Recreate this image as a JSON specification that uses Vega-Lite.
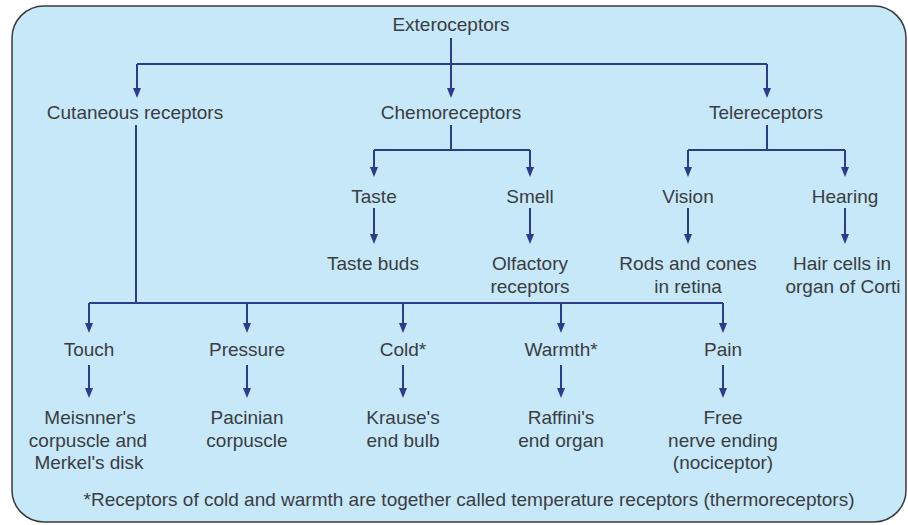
{
  "$schema": "https://vega.github.io/schema/vega-lite/v6.json",
  "width": 908,
  "height": 525,
  "padding": 0,
  "autosize": {"type": "none"},
  "background": "white",
  "config": {"view": {"stroke": null}},
  "datasets": {
    "box": [{"x": 12, "x2": 906, "y": 6, "y2": 522}],
    "lines": [
      {"x": 451, "x2": 451, "y": 38, "y2": 94},
      {"x": 137, "x2": 767, "y": 64, "y2": 64},
      {"x": 137, "x2": 137, "y": 64, "y2": 94},
      {"x": 767, "x2": 767, "y": 64, "y2": 94},
      {"x": 136, "x2": 136, "y": 125, "y2": 303},
      {"x": 451, "x2": 451, "y": 125, "y2": 150},
      {"x": 374, "x2": 530, "y": 150, "y2": 150},
      {"x": 374, "x2": 374, "y": 150, "y2": 173},
      {"x": 530, "x2": 530, "y": 150, "y2": 173},
      {"x": 767, "x2": 767, "y": 125, "y2": 150},
      {"x": 688, "x2": 845, "y": 150, "y2": 150},
      {"x": 688, "x2": 688, "y": 150, "y2": 173},
      {"x": 845, "x2": 845, "y": 150, "y2": 173},
      {"x": 374, "x2": 374, "y": 208, "y2": 240},
      {"x": 530, "x2": 530, "y": 208, "y2": 240},
      {"x": 688, "x2": 688, "y": 208, "y2": 240},
      {"x": 845, "x2": 845, "y": 208, "y2": 240},
      {"x": 89, "x2": 723, "y": 303, "y2": 303},
      {"x": 89, "x2": 89, "y": 303, "y2": 329},
      {"x": 247, "x2": 247, "y": 303, "y2": 329},
      {"x": 403, "x2": 403, "y": 303, "y2": 329},
      {"x": 561, "x2": 561, "y": 303, "y2": 329},
      {"x": 723, "x2": 723, "y": 303, "y2": 329},
      {"x": 89, "x2": 89, "y": 365, "y2": 394},
      {"x": 247, "x2": 247, "y": 365, "y2": 394},
      {"x": 403, "x2": 403, "y": 365, "y2": 394},
      {"x": 561, "x2": 561, "y": 365, "y2": 394},
      {"x": 723, "x2": 723, "y": 365, "y2": 394}
    ],
    "heads": [
      {"x": 137, "y": 93}, {"x": 451, "y": 93}, {"x": 767, "y": 93},
      {"x": 374, "y": 172}, {"x": 530, "y": 172}, {"x": 688, "y": 172}, {"x": 845, "y": 172},
      {"x": 374, "y": 239}, {"x": 530, "y": 239}, {"x": 688, "y": 239}, {"x": 845, "y": 239},
      {"x": 89, "y": 328}, {"x": 247, "y": 328}, {"x": 403, "y": 328}, {"x": 561, "y": 328}, {"x": 723, "y": 328},
      {"x": 89, "y": 393}, {"x": 247, "y": 393}, {"x": 403, "y": 393}, {"x": 561, "y": 393}, {"x": 723, "y": 393}
    ],
    "labels": [
      {"x": 451, "y": 25, "label": "Exteroceptors"},
      {"x": 135, "y": 113, "label": "Cutaneous receptors"},
      {"x": 451, "y": 113, "label": "Chemoreceptors"},
      {"x": 766, "y": 113, "label": "Telereceptors"},
      {"x": 374, "y": 197, "label": "Taste"},
      {"x": 530, "y": 197, "label": "Smell"},
      {"x": 688, "y": 197, "label": "Vision"},
      {"x": 845, "y": 197, "label": "Hearing"},
      {"x": 373, "y": 264, "label": "Taste buds"},
      {"x": 530, "y": 264, "label": "Olfactory"},
      {"x": 530, "y": 287, "label": "receptors"},
      {"x": 688, "y": 264, "label": "Rods and cones"},
      {"x": 688, "y": 287, "label": "in retina"},
      {"x": 842, "y": 264, "label": "Hair cells in"},
      {"x": 843, "y": 287, "label": "organ of Corti"},
      {"x": 89, "y": 350, "label": "Touch"},
      {"x": 247, "y": 350, "label": "Pressure"},
      {"x": 403, "y": 350, "label": "Cold*"},
      {"x": 561, "y": 350, "label": "Warmth*"},
      {"x": 723, "y": 350, "label": "Pain"},
      {"x": 90, "y": 418, "label": "Meisnner's"},
      {"x": 88, "y": 441, "label": "corpuscle and"},
      {"x": 89, "y": 463, "label": "Merkel's disk"},
      {"x": 247, "y": 418, "label": "Pacinian"},
      {"x": 247, "y": 441, "label": "corpuscle"},
      {"x": 403, "y": 418, "label": "Krause's"},
      {"x": 403, "y": 441, "label": "end bulb"},
      {"x": 561, "y": 418, "label": "Raffini's"},
      {"x": 561, "y": 441, "label": "end organ"},
      {"x": 723, "y": 418, "label": "Free"},
      {"x": 723, "y": 441, "label": "nerve ending"},
      {"x": 723, "y": 463, "label": "(nociceptor)"},
      {"x": 469, "y": 500, "label": "*Receptors of cold and warmth are together called temperature receptors (thermoreceptors)"}
    ]
  },
  "layer": [
    {
      "data": {"name": "box"},
      "mark": {"type": "rect", "fill": "#c6e8f8", "stroke": "#3a3a3a", "strokeWidth": 1.5, "cornerRadius": 32},
      "encoding": {
        "x": {"field": "x", "type": "quantitative", "scale": {"domain": [0, 908], "nice": false, "zero": false}, "axis": null},
        "x2": {"field": "x2"},
        "y": {"field": "y", "type": "quantitative", "scale": {"domain": [0, 525], "nice": false, "zero": false, "reverse": true}, "axis": null},
        "y2": {"field": "y2"}
      }
    },
    {
      "data": {"name": "lines"},
      "mark": {"type": "rule", "color": "#2b3c8e", "strokeWidth": 2},
      "encoding": {
        "x": {"field": "x", "type": "quantitative", "scale": {"domain": [0, 908], "nice": false, "zero": false}, "axis": null},
        "x2": {"field": "x2"},
        "y": {"field": "y", "type": "quantitative", "scale": {"domain": [0, 525], "nice": false, "zero": false, "reverse": true}, "axis": null},
        "y2": {"field": "y2"}
      }
    },
    {
      "data": {"name": "heads"},
      "mark": {"type": "point", "shape": "M-0.8,-1L0.8,-1L0,1Z", "filled": true, "color": "#2b3c8e", "size": 100, "opacity": 1},
      "encoding": {
        "x": {"field": "x", "type": "quantitative", "scale": {"domain": [0, 908], "nice": false, "zero": false}, "axis": null},
        "y": {"field": "y", "type": "quantitative", "scale": {"domain": [0, 525], "nice": false, "zero": false, "reverse": true}, "axis": null}
      }
    },
    {
      "data": {"name": "labels"},
      "mark": {"type": "text", "font": "Liberation Sans", "fontSize": 19, "color": "#3a3d42", "align": "center", "baseline": "middle"},
      "encoding": {
        "x": {"field": "x", "type": "quantitative", "scale": {"domain": [0, 908], "nice": false, "zero": false}, "axis": null},
        "y": {"field": "y", "type": "quantitative", "scale": {"domain": [0, 525], "nice": false, "zero": false, "reverse": true}, "axis": null},
        "text": {"field": "label"}
      }
    }
  ]
}
